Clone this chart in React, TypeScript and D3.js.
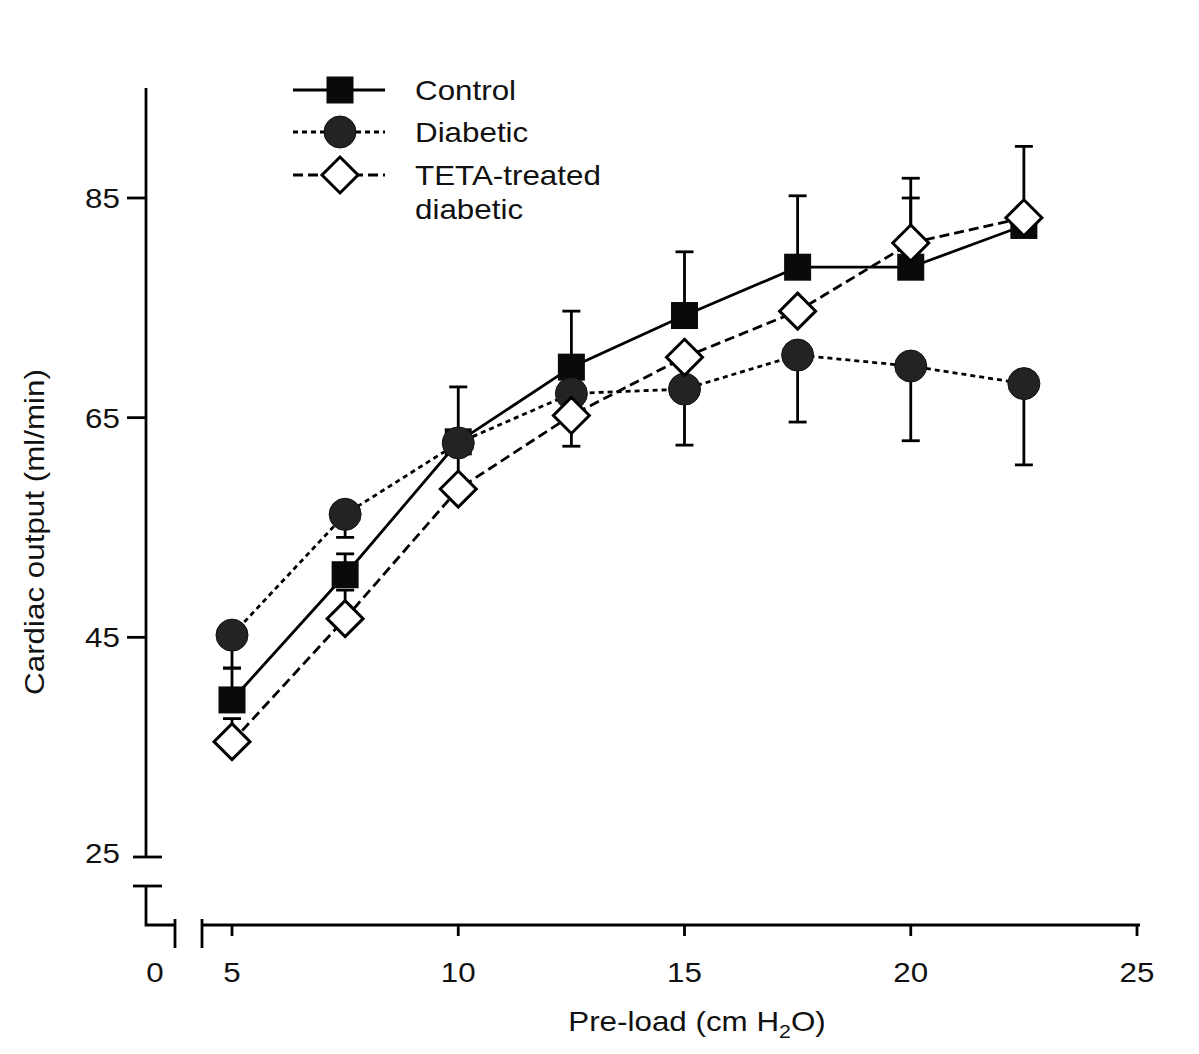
import React from "react";
import * as d3 from "d3";

const preload = [5, 7.5, 10, 12.5, 15, 17.5, 20, 22.5];
const controlMean = [39.3, 50.7, 62.8, 69.6, 74.3, 78.7, 78.7, 82.5];
const controlSem = [2.9, 1.9, 5.0, 5.1, 5.8, 6.5, 6.3, 7.2];
const diabeticMean = [45.2, 56.2, 62.7, 67.2, 67.6, 70.7, 69.7, 68.1];
const diabeticSem = [3.0, 2.1, 4.0, 4.8, 5.1, 6.1, 6.8, 7.4];
const tetaMean = [35.5, 46.7, 58.5, 65.2, 70.5, 74.7, 80.9, 83.2];
const tetaSem = [2.1, 2.6, 0.7, 0.7, 0.7, 0.7, 5.9, 0.7];

const xTicks = [5, 10, 15, 20, 25];
const yTicks = [45, 65, 85];
const legendLabels = ["Control", "Diabetic", "TETA-treated"];

const W = 1199;
const H = 1054;
const FONT = "'Liberation Sans', Arial, sans-serif";
const FS = 28;
const SX = 1.12;

function T(props: { x: number; y: number; anchor?: "start" | "middle" | "end"; rotate?: number; children: React.ReactNode }) {
  const { x, y, anchor = "start", rotate = 0, children } = props;
  return (
    <text
      transform={`translate(${x},${y}) rotate(${rotate}) scale(${SX},1)`}
      fontSize={FS}
      textAnchor={anchor}
      fill="#111"
    >
      {children}
    </text>
  );
}

export default function App() {
  const x = d3.scaleLinear().domain([5, 25]).range([232, 1137]);
  const y = d3.scaleLinear().domain([25, 85]).range([857, 198]);
  const axisX = 146;
  const axisY = 925;
  const sw = 2.8;

  const line = d3
    .line<[number, number]>()
    .x((d) => x(d[0]))
    .y((d) => y(d[1]));

  const series = [
    { name: "control", mean: controlMean, sem: controlSem, dir: 1, dash: undefined as string | undefined },
    { name: "diabetic", mean: diabeticMean, sem: diabeticSem, dir: -1, dash: "5,4" },
    { name: "teta", mean: tetaMean, sem: tetaSem, dir: 1, dash: "10,5" },
  ];

  const sq = 27;
  const cr = 16;
  const dm = 18;

  const marker = (name: string, cx: number, cy: number, key: string) => {
    if (name === "control")
      return <rect key={key} x={cx - sq / 2} y={cy - sq / 2} width={sq} height={sq} fill="#0a0a0a" />;
    if (name === "diabetic")
      return <circle key={key} cx={cx} cy={cy} r={cr} fill="#232323" stroke="#111" strokeWidth={1} />;
    return (
      <path
        key={key}
        d={`M${cx},${cy - dm}L${cx + dm},${cy}L${cx},${cy + dm}L${cx - dm},${cy}Z`}
        fill="#fff"
        stroke="#000"
        strokeWidth={3}
      />
    );
  };

  return (
    <svg
      width={W}
      height={H}
      style={{ display: "block", background: "#fff", position: "absolute", left: 0, top: 0 }}
      fontFamily={FONT}
    >
      {/* Y axis */}
      <line x1={axisX} y1={88} x2={axisX} y2={y(25)} stroke="#000" strokeWidth={sw} />
      <line x1={133} y1={y(25)} x2={162} y2={y(25)} stroke="#000" strokeWidth={sw} />
      <line x1={133} y1={886} x2={162} y2={886} stroke="#000" strokeWidth={sw} />
      <path d={`M${axisX},886V${axisY}H175`} fill="none" stroke="#000" strokeWidth={sw} />
      <line x1={175} y1={919} x2={175} y2={948} stroke="#000" strokeWidth={sw} />
      <line x1={202} y1={919} x2={202} y2={948} stroke="#000" strokeWidth={sw} />
      <line x1={202} y1={axisY} x2={1140} y2={axisY} stroke="#000" strokeWidth={sw} />
      {yTicks.map((t) => (
        <g key={t}>
          <line x1={127} y1={y(t)} x2={axisX} y2={y(t)} stroke="#000" strokeWidth={sw} />
          <T x={120} y={y(t) + 10} anchor="end">
            {t}
          </T>
        </g>
      ))}
      <T x={120} y={y(25) + 6} anchor="end">
        25
      </T>
      {xTicks.map((t) => (
        <g key={t}>
          <line x1={x(t)} y1={axisY} x2={x(t)} y2={936} stroke="#000" strokeWidth={sw} />
          <T x={x(t)} y={982} anchor="middle">
            {t}
          </T>
        </g>
      ))}
      <T x={155} y={982} anchor="middle">
        0
      </T>
      <T x={697} y={1031} anchor="middle">
        Pre-load (cm H<tspan dy={7} fontSize={19}>2</tspan>
        <tspan dy={-7}>O)</tspan>
      </T>
      <T x={44} y={532} anchor="middle" rotate={-90}>
        Cardiac output (ml/min)
      </T>

      {/* lines */}
      {series.map((s) => (
        <path
          key={s.name}
          d={line(preload.map((p, i) => [p, s.mean[i]] as [number, number])) || ""}
          fill="none"
          stroke="#000"
          strokeWidth={sw}
          strokeDasharray={s.dash}
        />
      ))}
      {/* error bars */}
      {series.map((s) =>
        preload.map((p, i) => {
          const yv = y(s.mean[i] + s.dir * s.sem[i]);
          return (
            <g key={s.name + i}>
              <line x1={x(p)} y1={y(s.mean[i])} x2={x(p)} y2={yv} stroke="#000" strokeWidth={sw} />
              <line x1={x(p) - 9} y1={yv} x2={x(p) + 9} y2={yv} stroke="#000" strokeWidth={sw} />
            </g>
          );
        })
      )}
      {/* markers */}
      {series.map((s) => preload.map((p, i) => marker(s.name, x(p), y(s.mean[i]), s.name + "m" + i)))}

      {/* legend */}
      {series.map((s, i) => {
        const ly = [90, 132, 175][i];
        return (
          <g key={"lg" + i}>
            <line x1={293} y1={ly} x2={385} y2={ly} stroke="#000" strokeWidth={sw} strokeDasharray={s.dash} />
            {marker(s.name, 340, ly, "lgm" + i)}
            <T x={415} y={ly + 10}>{legendLabels[i]}</T>
          </g>
        );
      })}
      <T x={415} y={219}>diabetic</T>
    </svg>
  );
}
